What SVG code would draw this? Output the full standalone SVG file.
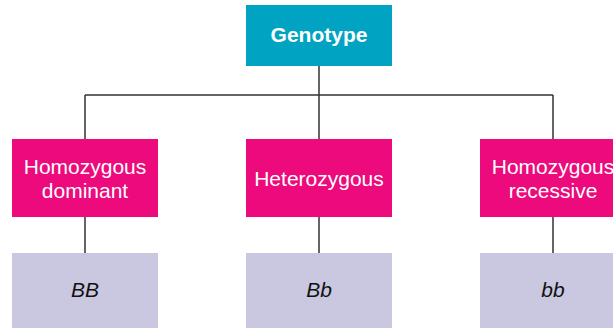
<svg xmlns="http://www.w3.org/2000/svg" width="613" height="328" viewBox="0 0 613 328">
<style>
.ln{stroke:#333;stroke-width:1.5;fill:none}
.t{font-family:"Liberation Sans",Arial,sans-serif;font-size:21px;text-anchor:middle}
.w{fill:#fff}
.k{fill:#111;font-style:italic}
</style>
<rect width="613" height="328" fill="#fff"/>
<g id="connectors">
<path class="ln" d="M319 66V95M85 95H553M85 95V139M319 95V139M553 95V139M85 217V253M319 217V253M553 217V253"/>
</g>
<g id="genotype">
<rect x="246" y="5" width="146" height="61" fill="#00A4C2"/>
<text class="t w" x="319" y="42" font-weight="bold">Genotype</text>
</g>
<g id="homdom">
<rect x="12" y="139" width="146" height="78" fill="#EC0A7C"/>
<text class="t w" x="85" y="174">Homozygous</text>
<text class="t w" x="85" y="198">dominant</text>
</g>
<g id="het">
<rect x="246" y="139" width="146" height="78" fill="#EC0A7C"/>
<text class="t w" x="319" y="186">Heterozygous</text>
</g>
<g id="homrec">
<rect x="480" y="139" width="146" height="78" fill="#EC0A7C"/>
<text class="t w" x="553" y="174">Homozygous</text>
<text class="t w" x="553" y="198">recessive</text>
</g>
<g id="BB">
<rect x="12" y="253" width="146" height="80" fill="#C9C8E0"/>
<text class="t k" x="85" y="297">BB</text>
</g>
<g id="Bb">
<rect x="246" y="253" width="146" height="80" fill="#C9C8E0"/>
<text class="t k" x="319" y="297">Bb</text>
</g>
<g id="bb">
<rect x="480" y="253" width="146" height="80" fill="#C9C8E0"/>
<text class="t k" x="553" y="297">bb</text>
</g>
</svg>
